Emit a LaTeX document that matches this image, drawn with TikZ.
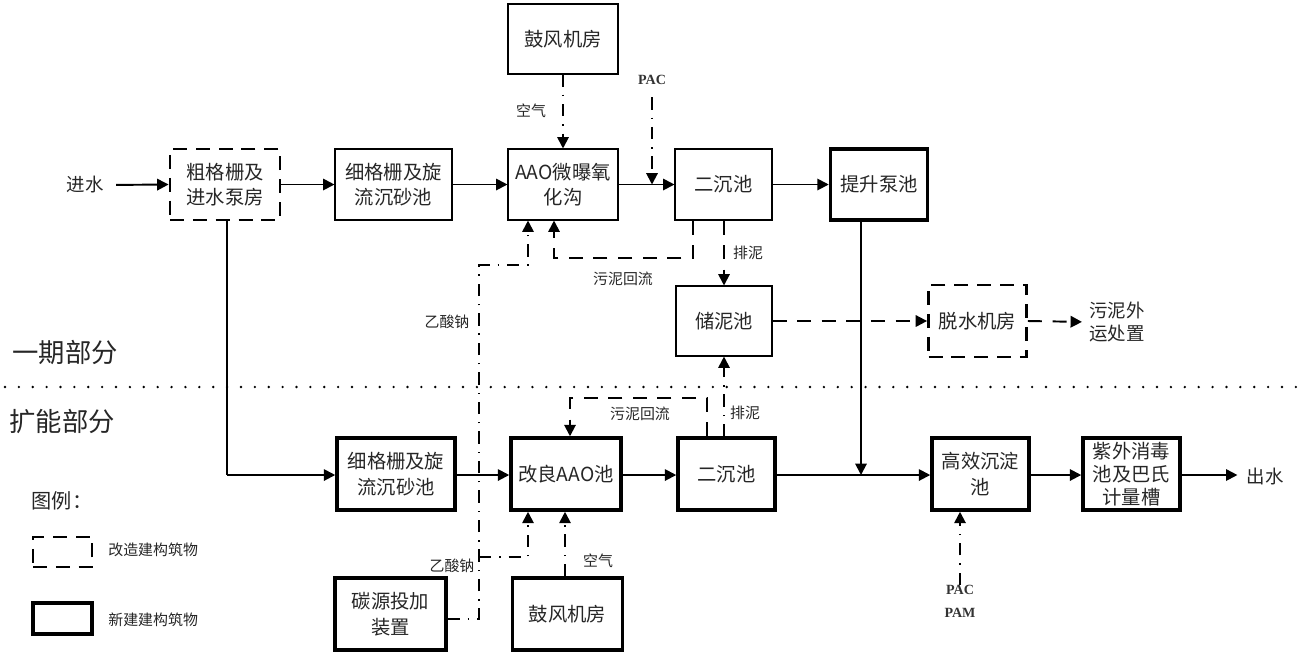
\documentclass[tikz,border=0pt]{standalone}
\usepackage{fontspec}
\setmainfont{Noto Sans CJK SC}
\newfontfamily\latinser{Liberation Serif}
\usetikzlibrary{arrows.meta,calc}
\begin{document}
\begin{tikzpicture}[x=0.02cm,y=-0.02cm,
  bx/.style 2 args={minimum width=#1*0.02cm, minimum height=#2*0.02cm, inner sep=0pt, align=center,
     font=\fontsize{11}{14.5}\selectfont, text=black!85},
  thinbox/.style={draw, line width=0.6pt},
  thickbox/.style={draw, line width=2pt},
  dashbox/.style={draw, line width=1.6pt, dash pattern=on 8pt off 5pt},
  conn/.style={line width=1.1pt, -{Triangle[length=6.5pt,width=6.5pt]}},
  plainline/.style={line width=1.1pt},
  dconn/.style={conn, dash pattern=on 8pt off 6pt},
  ddconn/.style={conn, dash pattern=on 7pt off 4.5pt on 0.8pt off 4.5pt},
  lbl/.style={inner sep=0pt, font=\fontsize{8.5}{10}\selectfont, text=black!85},
  txt/.style={inner sep=0pt, font=\fontsize{10.5}{13.5}\selectfont, text=black!85},
  big/.style={inner sep=0pt, font=\fontsize{15}{18}\selectfont, text=black!85},
  chem/.style={inner sep=0pt, font=\latinser\bfseries\fontsize{8}{9}\selectfont, text=black!80},
  sepline/.style={line width=1.5pt, line cap=round, dash pattern=on 0pt off 7.9pt}
]
\useasboundingbox (0,0) rectangle (1300,654);

% ---------- top row (phase 1) ----------
\node[txt] (inw) at (85,185) {进水};
\node[bx={110}{71}, dashbox] (coarse) at (225,184.5) {粗格栅及\\进水泵房};
\node[bx={117}{71}, thinbox] (fine1) at (393.5,184.5) {细格栅及旋\\流沉砂池};
\node[bx={110}{71}, thinbox] (aao1) at (563,184.5) {AAO微曝氧\\化沟};
\node[bx={110}{70}, thinbox] (blow1) at (563,39) {鼓风机房};
\node[bx={97}{71}, thinbox] (sec1) at (723.5,184.5) {二沉池};
\node[bx={97}{71}, thickbox] (lift) at (879,184.5) {提升泵池};
\node[bx={96}{70}, thinbox] (store) at (724,321) {储泥池};
\node[bx={98}{72}, dashbox] (dew) at (977.5,321) {脱水机房};
\node[txt, anchor=west, align=left] (sout) at (1089,322) {污泥外\\运处置};

\node[lbl] (air1) at (531,111) {空气};
\node[chem] (pac1) at (652,80) {PAC};
\node[lbl] (ret1) at (623,279) {污泥回流};
\node[lbl] (drain1) at (748,253) {排泥};
\node[lbl] (ace1) at (447,322) {乙酸钠};

\node[big] (ph1) at (65,352) {一期部分};
\node[big] (ph2) at (62,421) {扩能部分};

\coordinate (sepL) at (5,387);
\coordinate (sepR) at (1298,387);
\draw[sepline] (sepL) -- (sepR);

% ---------- bottom row (expansion) ----------
\node[bx={118}{72}, thickbox] (fine2) at (396,474) {细格栅及旋\\流沉砂池};
\node[bx={110}{72}, thickbox] (aao2) at (566,474) {改良AAO池};
\node[bx={97}{72}, thickbox] (sec2) at (726.5,474) {二沉池};
\node[bx={97}{72}, thickbox] (hes) at (980.5,474) {高效沉淀\\池};
\node[bx={97}{72}, thickbox, font=\fontsize{11}{13}\selectfont] (uv) at (1131.5,474) {紫外消毒\\池及巴氏\\计量槽};
\node[txt] (outw) at (1265,476) {出水};
\node[bx={111}{72}, thickbox] (carbon) at (390.5,614) {碳源投加\\装置};
\node[bx={110}{72}, thickbox] (blow2) at (567.5,614) {鼓风机房};

\node[lbl] (ret2) at (640,414) {污泥回流};
\node[lbl] (drain2) at (745,413) {排泥};
\node[lbl] (ace2) at (452,566) {乙酸钠};
\node[lbl] (air2) at (598,561) {空气};
\node[chem] (pac2) at (960,590) {PAC};
\node[chem] (pam2) at (960,613) {PAM};

% ---------- legend ----------
\node[txt, font=\fontsize{11.5}{14}\selectfont] (lgt) at (62,501) {图例：};
\node[bx={59}{30}, dashbox] (lg1) at (62.5,552) {};
\node[bx={59}{31}, thickbox] (lg2) at (62.5,618.5) {};
\node[lbl, anchor=west] (lg1t) at (108,550) {改造建构筑物};
\node[lbl, anchor=west] (lg2t) at (108,620) {新建建构筑物};

% ---------- connectors top ----------
\draw[conn, shorten <=7pt] (inw.east) -- (coarse.west);
\draw[conn] (coarse.east) -- (fine1.west);
\draw[conn] (fine1.east) -- (aao1.west);
\draw[conn] (aao1.east) -- (sec1.west);
\draw[conn] (sec1.east) -- (lift.west);
\draw[ddconn] (blow1.south) -- (aao1.north);
\draw[ddconn, shorten <=7pt] (pac1.south) -- (pac1.south |- sec1.west);

\coordinate (r1) at (693,258);
\coordinate (r2) at (554,258);
\draw[dconn] (sec1.south -| r1) -- (r1) -- (r2) -- (r2 |- aao1.south);
\draw[dconn] (sec1.south -| store.north) -- (store.north);
\draw[dconn] (store.east) -- (dew.west);
\draw[dconn, shorten >=4pt] (dew.east) -- (sout.west);

\coordinate (j) at (861,475);
\draw[conn] (lift.south -| j) -- (j);

% ---------- connectors bottom ----------
\coordinate (c1) at (227,475);
\draw[plainline] (coarse.south -| c1) -- (c1);
\draw[conn] (c1) -- (fine2.west |- c1);
\draw[conn] (fine2.east |- c1) -- (aao2.west |- c1);
\draw[conn] (aao2.east |- c1) -- (sec2.west |- c1);
\draw[conn] (sec2.east |- c1) -- (hes.west |- c1);
\draw[conn] (hes.east |- c1) -- (uv.west |- c1);
\draw[conn, shorten >=5pt] (uv.east |- c1) -- (outw.west |- c1);

\coordinate (b1) at (707,398);
\coordinate (b2) at (570,398);
\draw[dconn] (sec2.north -| b1) -- (b1) -- (b2) -- (b2 |- aao2.north);
\draw[ddconn] (sec2.north -| store.south) -- (store.south);

\coordinate (k1) at (479,619);
\coordinate (k2) at (479,265);
\coordinate (k3) at (528,265);
\coordinate (k4) at (479,557);
\coordinate (k5) at (528,557);
\draw[ddconn] (carbon.east |- k1) -- (k1) -- (k2) -- (k3) -- (k3 |- aao1.south);
\draw[ddconn] (k4) -- (k5) -- (k5 |- aao2.south);

\coordinate (k6) at (565,600);
\draw[ddconn] (blow2.north -| k6) -- (k6 |- aao2.south);

\coordinate (p2) at (960,580);
\draw[ddconn] (pac2.north -| p2) -- (p2 |- hes.south);
\end{tikzpicture}
\end{document}
